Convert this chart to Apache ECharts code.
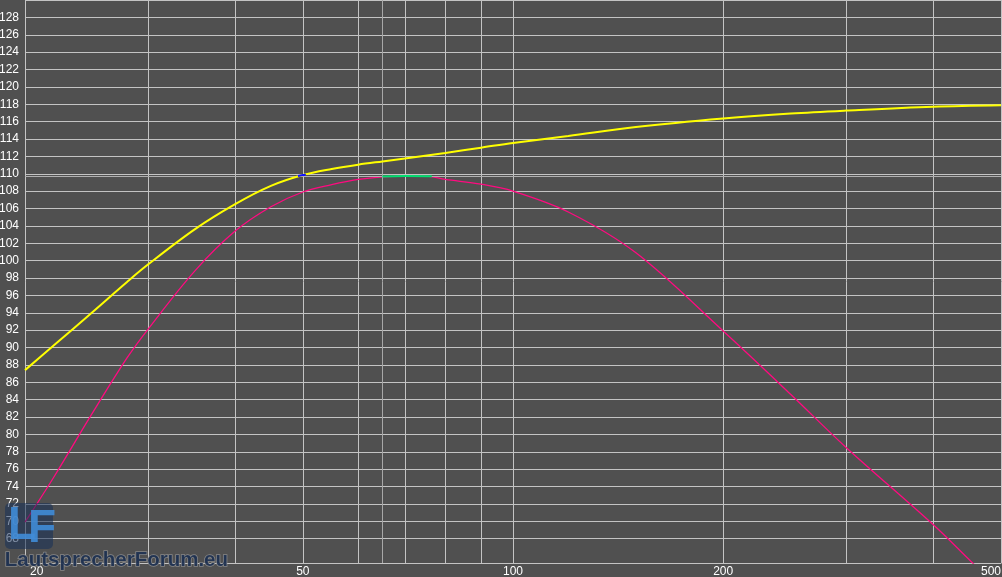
<!DOCTYPE html>
<html><head><meta charset="utf-8">
<script src="https://cdn.jsdelivr.net/npm/echarts@6/dist/echarts.min.js"></script>
<style>html,body{margin:0;padding:0;background:#505050;overflow:hidden}#c{width:1002px;height:577px}</style>
</head><body><div id="c"></div>
<script>
// ---- data ----
const yellowFreqs = [20, 22, 25, 28, 30, 35, 40, 45, 50, 55, 60, 65, 70, 80, 90, 100, 120, 150, 200, 250, 300, 400, 500];
const yellowSpl   = [87.4, 90.25, 94.1, 97.55, 99.55, 103.6, 106.5, 108.6, 109.85, 110.55, 111.05, 111.42, 111.75, 112.4, 113.0, 113.55, 114.35, 115.37, 116.35, 116.93, 117.27, 117.71, 117.88];
const pinkFreqs = [20, 22, 25, 28, 30, 35, 40, 45, 50, 55, 60, 65, 70, 75, 80, 90, 100, 120, 150, 200, 250, 300, 400, 450, 500];
const pinkSpl   = [69.9, 75.1, 82.5, 88.8, 92.1, 98.8, 103.4, 106.2, 107.9, 108.75, 109.35, 109.65, 109.73, 109.72, 109.35, 108.8, 108.0, 105.6, 100.9, 91.9, 84.6, 78.5, 69.6, 65.6, 62.0];
const greenFreqs = [65, 70, 76.5];
const greenSpl   = [109.68, 109.73, 109.71];
const blueFreqs = [49.2, 50, 50.5];
const blueSpl   = [109.75, 109.85, 109.9];
const xTickValues  = [20, 30, 40, 50, 60, 70, 80, 90, 100, 200, 300, 400, 500];
const xLabelValues = [20, 50, 100, 200, 500];
const yLabelValues = [68, 70, 72, 74, 76, 78, 80, 82, 84, 86, 88, 90, 92, 94, 96, 98, 100, 102, 104, 106, 108, 110, 112, 114, 116, 118, 120, 122, 124, 126, 128];
const yTickValues  = yLabelValues.concat([130]);
const markerFreq = 65;
const markerSpl = 109.75;

const pair = (xs, ys) => xs.map((x, i) => [x, ys[i]]);

const chart = echarts.init(document.getElementById('c'), null, {renderer: 'canvas'});
const gridColor = '#c4c4c4';
const font = '"Liberation Sans", Arial, sans-serif';

chart.setOption({
  animation: false,
  backgroundColor: '#505050',
  grid: {left: 25, right: 1, top: 0, bottom: 14, containLabel: false, outerBoundsMode: 'none'},
  xAxis: {
    type: 'log', logBase: 10, min: 20, max: 500,
    axisLine: {show: true, lineStyle: {color: gridColor, width: 1}},
    axisTick: {show: false, customValues: xTickValues},
    splitLine: {show: true, lineStyle: {color: gridColor, width: 1}},
    minorSplitLine: {show: false},
    axisLabel: {
      customValues: xLabelValues, color: '#ffffff', fontSize: 12, fontFamily: font,
      margin: 3, alignMinLabel: 'left', alignMaxLabel: 'right', showMinLabel: true, showMaxLabel: true,
      formatter: v => (v === xLabelValues[0] ? '{first|' + v + '}' : String(v)),
      rich: {first: {padding: [0, 0, 0, 5], color: '#ffffff', fontSize: 12, fontFamily: font}}
    }
  },
  yAxis: {
    type: 'value', min: 65.2, max: 130,
    axisLine: {show: true, lineStyle: {color: gridColor, width: 1}},
    axisTick: {show: false, customValues: yTickValues},
    splitLine: {show: true, lineStyle: {color: gridColor, width: 1}},
    axisLabel: {customValues: yLabelValues, color: '#ffffff', fontSize: 12, fontFamily: font, margin: 6}
  },
  series: [
    {
      type: 'line', data: [], z: 1,
      markLine: {
        silent: true, symbol: 'none', label: {show: false}, animation: false,
        data: [
          {xAxis: markerFreq, lineStyle: {color: '#a8a8a8', type: 'solid', width: 1}},
          {yAxis: markerSpl, lineStyle: {color: '#b0b0b0', type: 'solid', width: 1}}
        ]
      }
    },
    {
      type: 'line', data: pair(pinkFreqs, pinkSpl), smooth: 0.35, showSymbol: false,
      lineStyle: {color: '#ff0a80', width: 1.3}, z: 3
    },
    {type: 'line', data: pair(greenFreqs, greenSpl), smooth: true, showSymbol: false, lineStyle: {color: '#00e070', width: 2}, z: 8},
    {type: 'line', data: pair(yellowFreqs, yellowSpl), smooth: 0.35, showSymbol: false, lineStyle: {color: '#ffff00', width: 2}, z: 5},
    {type: 'line', data: pair(blueFreqs, blueSpl), smooth: true, showSymbol: false, lineStyle: {color: '#1010ff', width: 2}, z: 9}
  ],
  graphic: [
    {type: 'rect', left: 5, top: 503, z: 100, shape: {width: 48, height: 46, r: 5}, style: {fill: 'rgba(22,48,88,0.55)'}},
    {type: 'text', left: 8, top: 503, z: 101, style: {text: 'L', fill: 'rgba(64,140,215,0.9)', font: 'bold 46px "Liberation Sans Narrow", "Liberation Sans", sans-serif'}},
    {type: 'text', left: 28, top: 506, z: 101, style: {text: 'F', fill: 'rgba(64,140,215,0.9)', font: 'bold 46px "Liberation Sans Narrow", "Liberation Sans", sans-serif'}},
    {type: 'text', left: 4, top: 549, z: 101, style: {text: 'LautsprecherForum.eu', fill: 'rgba(28,48,80,0.92)', stroke: 'rgba(150,150,150,0.8)', lineWidth: 1.5, font: 'bold 20.5px "Liberation Sans", Arial, sans-serif'}}
  ]
});
</script>
</body></html>
